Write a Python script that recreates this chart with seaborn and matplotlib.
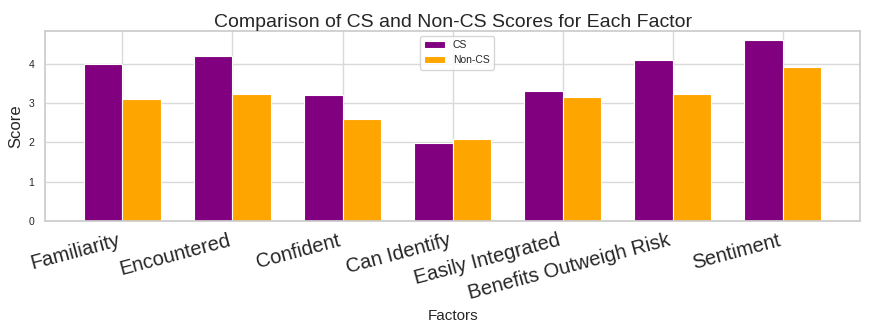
import pandas as pd
import matplotlib.pyplot as plt
import seaborn as sns

# данные
factors = ['Familiarity', 'Encountered', 'Confident', 'Can Identify',
           'Easily Integrated', 'Benefits Outweigh Risk', 'Sentiment']
cs_scores = [4.0, 4.19, 3.20, 1.98, 3.32, 4.10, 4.60]
non_cs_scores = [3.10, 3.23, 2.59, 2.08, 3.15, 3.24, 3.92]

df = pd.DataFrame({
    'Factor': factors * 2,
    'Score': cs_scores + non_cs_scores,
    'Group': ['CS'] * len(factors) + ['Non-CS'] * len(factors),
})

sns.set_theme(style='whitegrid')
plt.rcParams['font.family'] = ['Liberation Sans', 'DejaVu Sans']

fig, ax = plt.subplots(figsize=(8.72, 3.35), dpi=100)
sns.barplot(data=df, x='Factor', y='Score', hue='Group',
            palette={'CS': 'purple', 'Non-CS': 'orange'},
            width=0.7, saturation=1, edgecolor='white', linewidth=0.8, ax=ax)

ax.set_xlim(-0.7, len(factors) - 0.3)
ax.set_ylim(0, 4.84)
ax.grid(True, axis='both', color='#d9d9d9', linewidth=1)
ax.set_axisbelow(True)
ax.set_title('Comparison of CS and Non-CS Scores for Each Factor', fontsize=14, pad=3)
ax.set_xlabel('Factors', fontsize=11)
ax.set_ylabel('Score', fontsize=12)
ax.tick_params(axis='y', labelsize=7.5, pad=2)
plt.setp(ax.get_xticklabels(), rotation=15, ha='right', fontsize=14.5)
ax.tick_params(axis='x', pad=1)
ax.legend(loc='upper center', fontsize=7.5, bbox_to_anchor=(0.505, 1.0))
for s in ax.spines.values():
    s.set_color('#cccccc')

fig.subplots_adjust(left=0.052, right=0.986, bottom=0.34, top=0.908)
fig.savefig('out.png', dpi=100)
